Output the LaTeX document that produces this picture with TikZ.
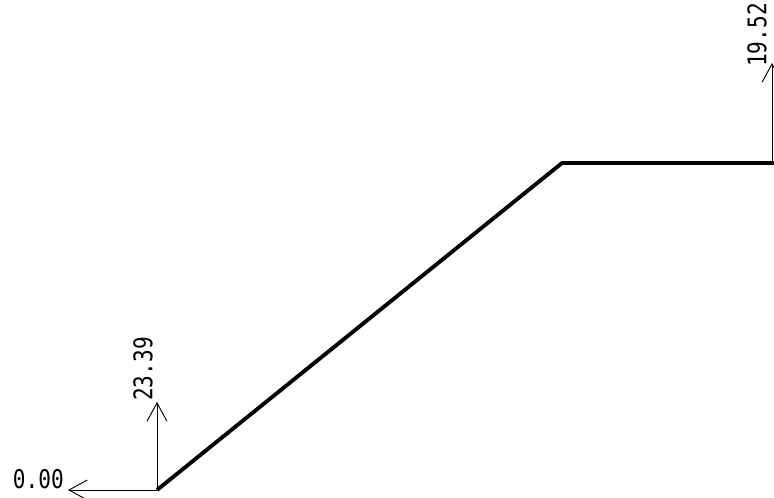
\documentclass[tikz,border=0pt]{standalone}
\usepackage{fontspec}
\setmonofont{DejaVu Sans Mono}
\usetikzlibrary{arrows.meta}
\tikzset{
  dim/.style={line width=0.8pt, -{Straight Barb[length=0.55cm,width=0.6cm,line width=0.8pt]}},
  dimlabel/.style={inner sep=0pt, font=\ttfamily\fontsize{18}{18}\selectfont},
  profile/.style={line width=3.3pt, line join=round}
}
\newcommand{\dimtext}[1]{\scalebox{1}[1.22]{#1}}
\begin{document}
\begin{tikzpicture}[x=0.03cm,y=-0.03cm]
\path[use as bounding box] (0,0) rectangle (774,497);
% points of the profile
\coordinate (start) at (157,490);
\coordinate (knee) at (562,163);
\coordinate (stop) at (776,163);
\coordinate (rightfoot) at (772,163);
% dimension ends
\coordinate (hzero) at (68,490);
\coordinate (vleft) at (157,402);
\coordinate (vright) at (772,63);
\draw[profile] (start) -- (knee) -- (stop);
\draw[dim] (start) -- (hzero);
\draw[dim] (start) -- (vleft);
\draw[dim] (rightfoot) -- (vright);
\node[dimlabel, anchor=east] (lzero) at (64,479) {\dimtext{0.00}};
\node[dimlabel, rotate=90] (lleft) at (143,369) {\dimtext{23.39}};
\node[dimlabel, rotate=90] (lright) at (757,35) {\dimtext{19.52}};
\end{tikzpicture}
\end{document}
